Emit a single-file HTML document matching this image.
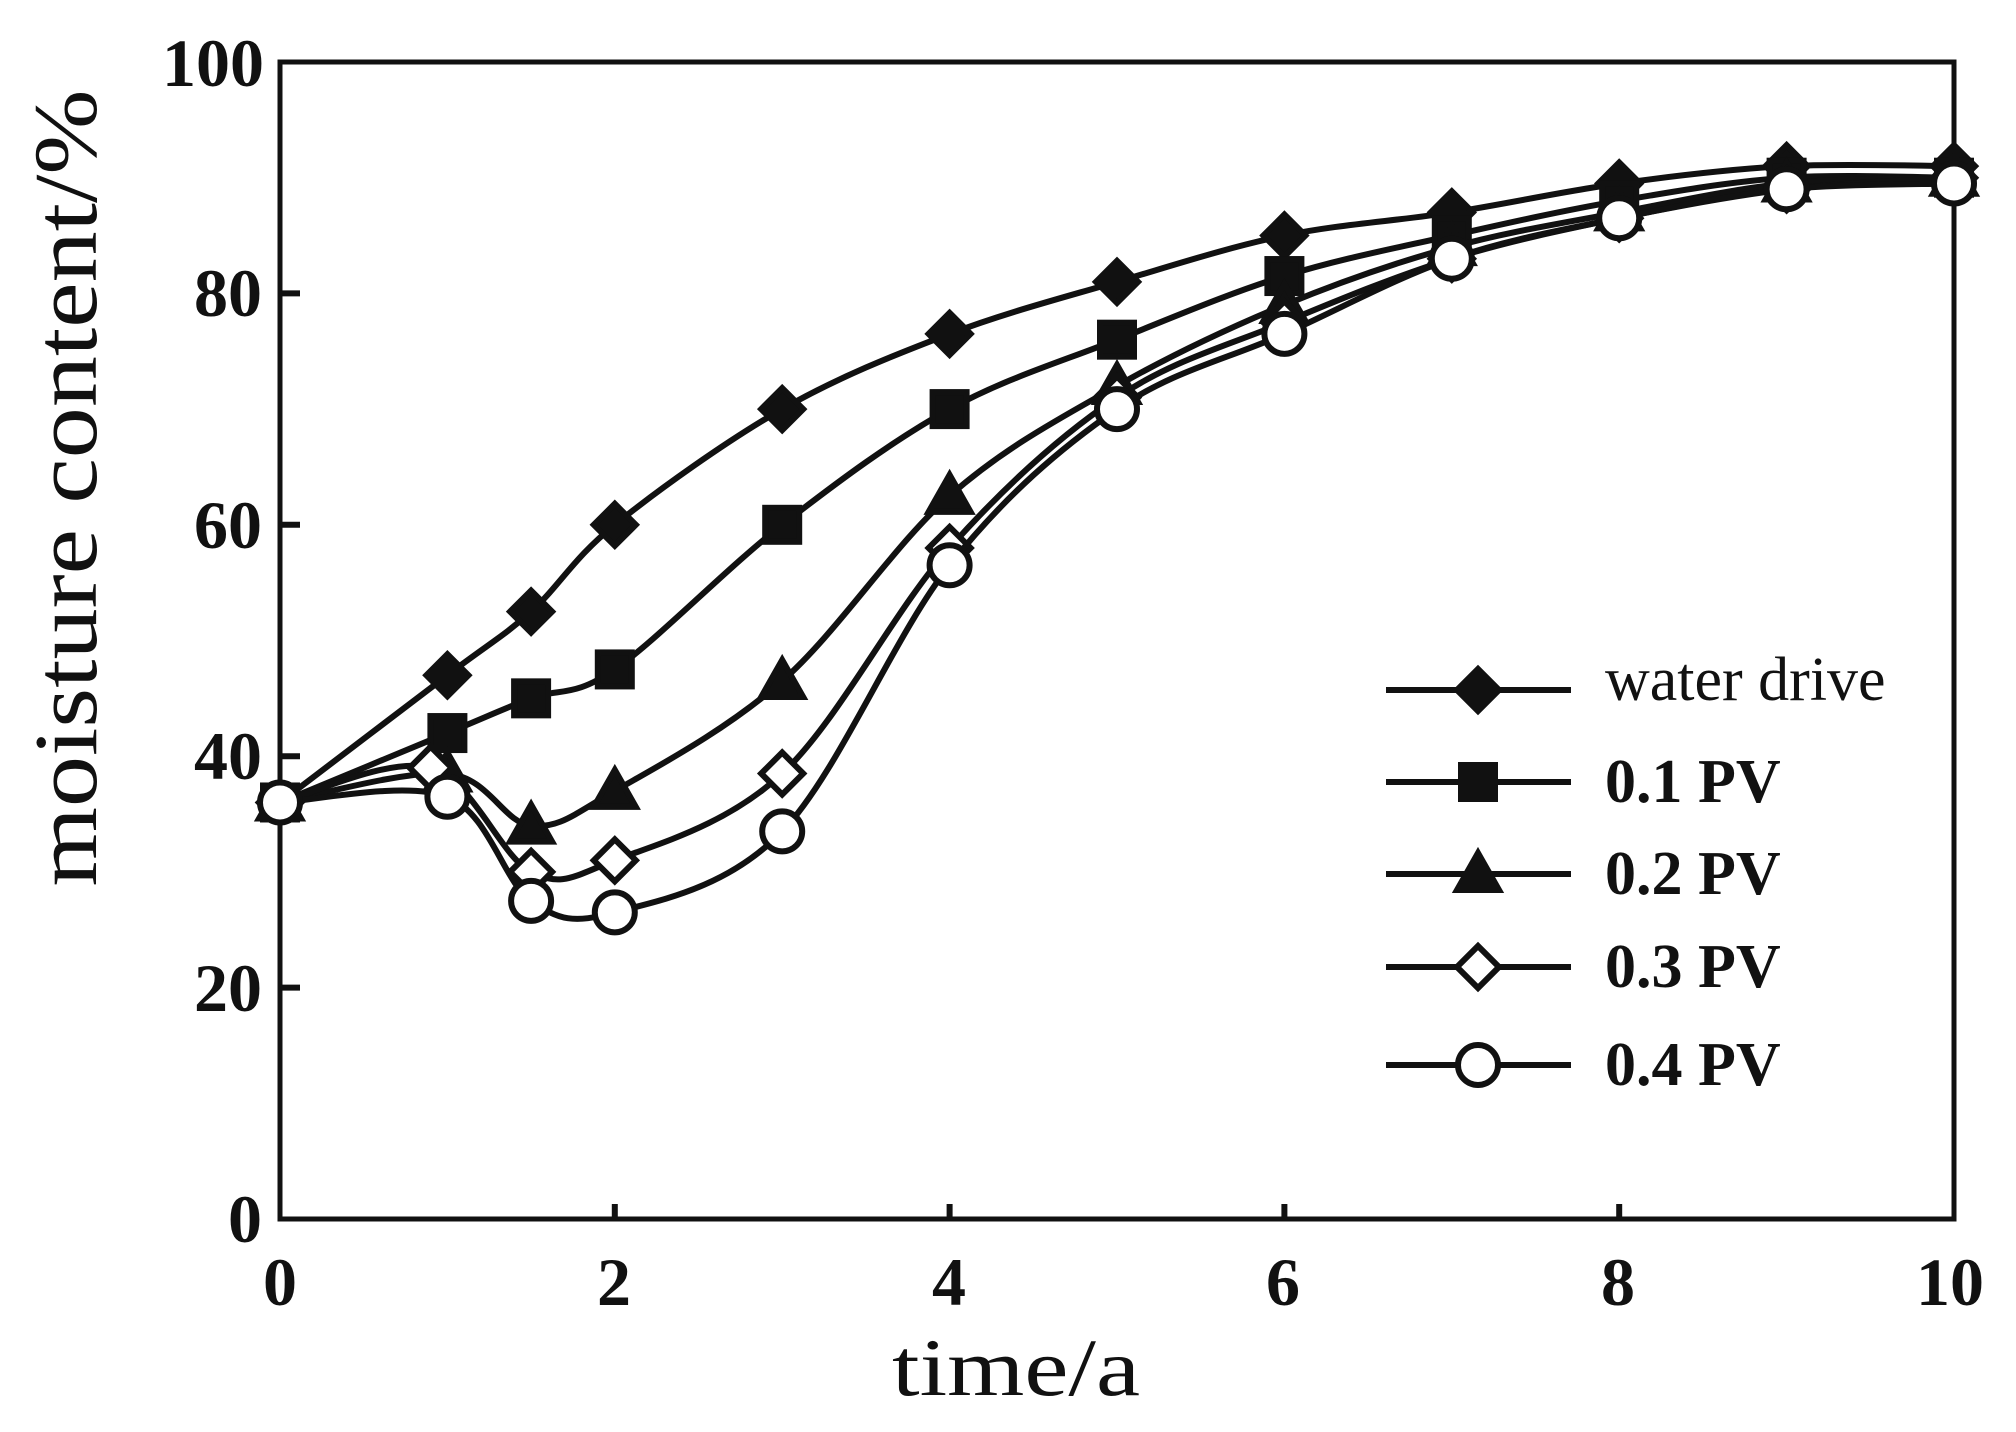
<!DOCTYPE html>
<html><head><meta charset="utf-8"><style>html,body{margin:0;padding:0;background:#fff}svg{display:block}</style></head>
<body>
<svg id="s" width="2016" height="1432" viewBox="0 0 2016 1432" xmlns="http://www.w3.org/2000/svg">
<rect width="2016" height="1432" fill="#fff"/>
<g font-family="Liberation Serif, serif" fill="#111">
<g font-weight="bold" font-size="68" text-anchor="end">
<text x="262" y="1242">0</text>
<text x="262" y="1011">20</text>
<text x="262" y="779">40</text>
<text x="262" y="548">60</text>
<text x="262" y="316">80</text>
<text x="264" y="86">100</text>
</g>
<g font-weight="bold" font-size="68" text-anchor="middle">
<text x="280" y="1305">0</text>
<text x="614" y="1305">2</text>
<text x="949" y="1305">4</text>
<text x="1283" y="1305">6</text>
<text x="1618" y="1305">8</text>
<text x="1950" y="1305">10</text>
</g>
<text x="1016" y="1395" font-size="82" text-anchor="middle" textLength="248" lengthAdjust="spacingAndGlyphs">time/a</text>
<text transform="translate(96,488) rotate(-90)" font-size="90" text-anchor="middle" textLength="797" lengthAdjust="spacingAndGlyphs">moisture content/%</text>
<text x="1605" y="700" font-size="62">water drive</text>
<g font-weight="bold" font-size="62">
<text x="1605" y="802">0.1 PV</text>
<text x="1605" y="894">0.2 PV</text>
<text x="1605" y="987">0.3 PV</text>
<text x="1605" y="1085">0.4 PV</text>
</g>
</g>
<rect x="280" y="62" width="1674" height="1157" fill="none" stroke="#111" stroke-width="5"/>
<g id="g" stroke="#111" stroke-width="6" fill="none"></g>
</svg>
<script>
var X=function(v){return 280+v*167.4},Y=function(v){return 1219-v*11.57};
var S=[
["d",[[0,36],[1,47],[1.5,52.5],[2,60],[3,70],[4,76.5],[5,81],[6,85],[7,87],[8,89.5],[9,91],[10,91]]],
["s",[[0,36],[1,42],[1.5,45],[2,47.5],[3,60],[4,70],[5,76],[6,81.5],[7,85],[8,88],[9,90],[10,90]]],
["t",[[0,36],[1,38.5],[1.5,34],[2,37],[3,46.5],[4,62.5],[5,72],[6,79],[7,84],[8,87],[9,89.5],[10,90]]],
["od",[[0,36],[0.9,39],[1.5,30],[2,31],[3,38.5],[4,58],[5,71],[6,77.5],[7,83],[8,86.5],[9,89],[10,90]]],
["oc",[[0,36],[1,36.5],[1.5,27.5],[2,26.5],[3,33.5],[4,56.5],[5,70],[6,76.5],[7,83],[8,86.5],[9,89],[10,89.5]]]];
var g=document.getElementById('g'),h='';
function mk(t,x,y){var r=21;
 if(t=='d')return '<path d="M'+x+' '+(y-r)+'L'+(x+r)+' '+y+'L'+x+' '+(y+r)+'L'+(x-r)+' '+y+'Z" fill="#111"/>';
 if(t=='od')return '<path d="M'+x+' '+(y-r)+'L'+(x+r)+' '+y+'L'+x+' '+(y+r)+'L'+(x-r)+' '+y+'Z" fill="#fff"/>';
 if(t=='s')return '<rect x="'+(x-17)+'" y="'+(y-17)+'" width="34" height="34" fill="#111"/>';
 if(t=='t')return '<path d="M'+x+' '+(y-21)+'L'+(x+21)+' '+(y+16)+'L'+(x-21)+' '+(y+16)+'Z" fill="#111"/>';
 return '<circle cx="'+x+'" cy="'+y+'" r="20" fill="#fff"/>';}
[20,40,60,80].forEach(function(v){h+='<line x1="280" x2="300" y1="'+Y(v)+'" y2="'+Y(v)+'"/>'});
[2,4,6,8].forEach(function(v){h+='<line y1="1219" y2="1204" x1="'+X(v)+'" x2="'+X(v)+'"/>'});
S.forEach(function(s){var p=s[1].map(function(a){return [X(a[0]),Y(a[1])]});var d='M'+p[0];
 for(var i=0;i<p.length-1;i++){var p0=p[i-1]||p[i],p1=p[i],p2=p[i+1],p3=p[i+2]||p2;
  d+='C'+(p1[0]+(p2[0]-p0[0])/6)+','+(p1[1]+(p2[1]-p0[1])/6)+' '+(p2[0]-(p3[0]-p1[0])/6)+','+(p2[1]-(p3[1]-p1[1])/6)+' '+p2;}
 h+='<path d="'+d+'"/>';p.forEach(function(q){h+=mk(s[0],q[0],q[1])});});
var ly=[690,782,874,967,1065];
S.forEach(function(s,i){h+='<line x1="1386" x2="1571" y1="'+ly[i]+'" y2="'+ly[i]+'"/>'+mk(s[0],1478,ly[i])});
g.innerHTML=h;
</script>
</body></html>
